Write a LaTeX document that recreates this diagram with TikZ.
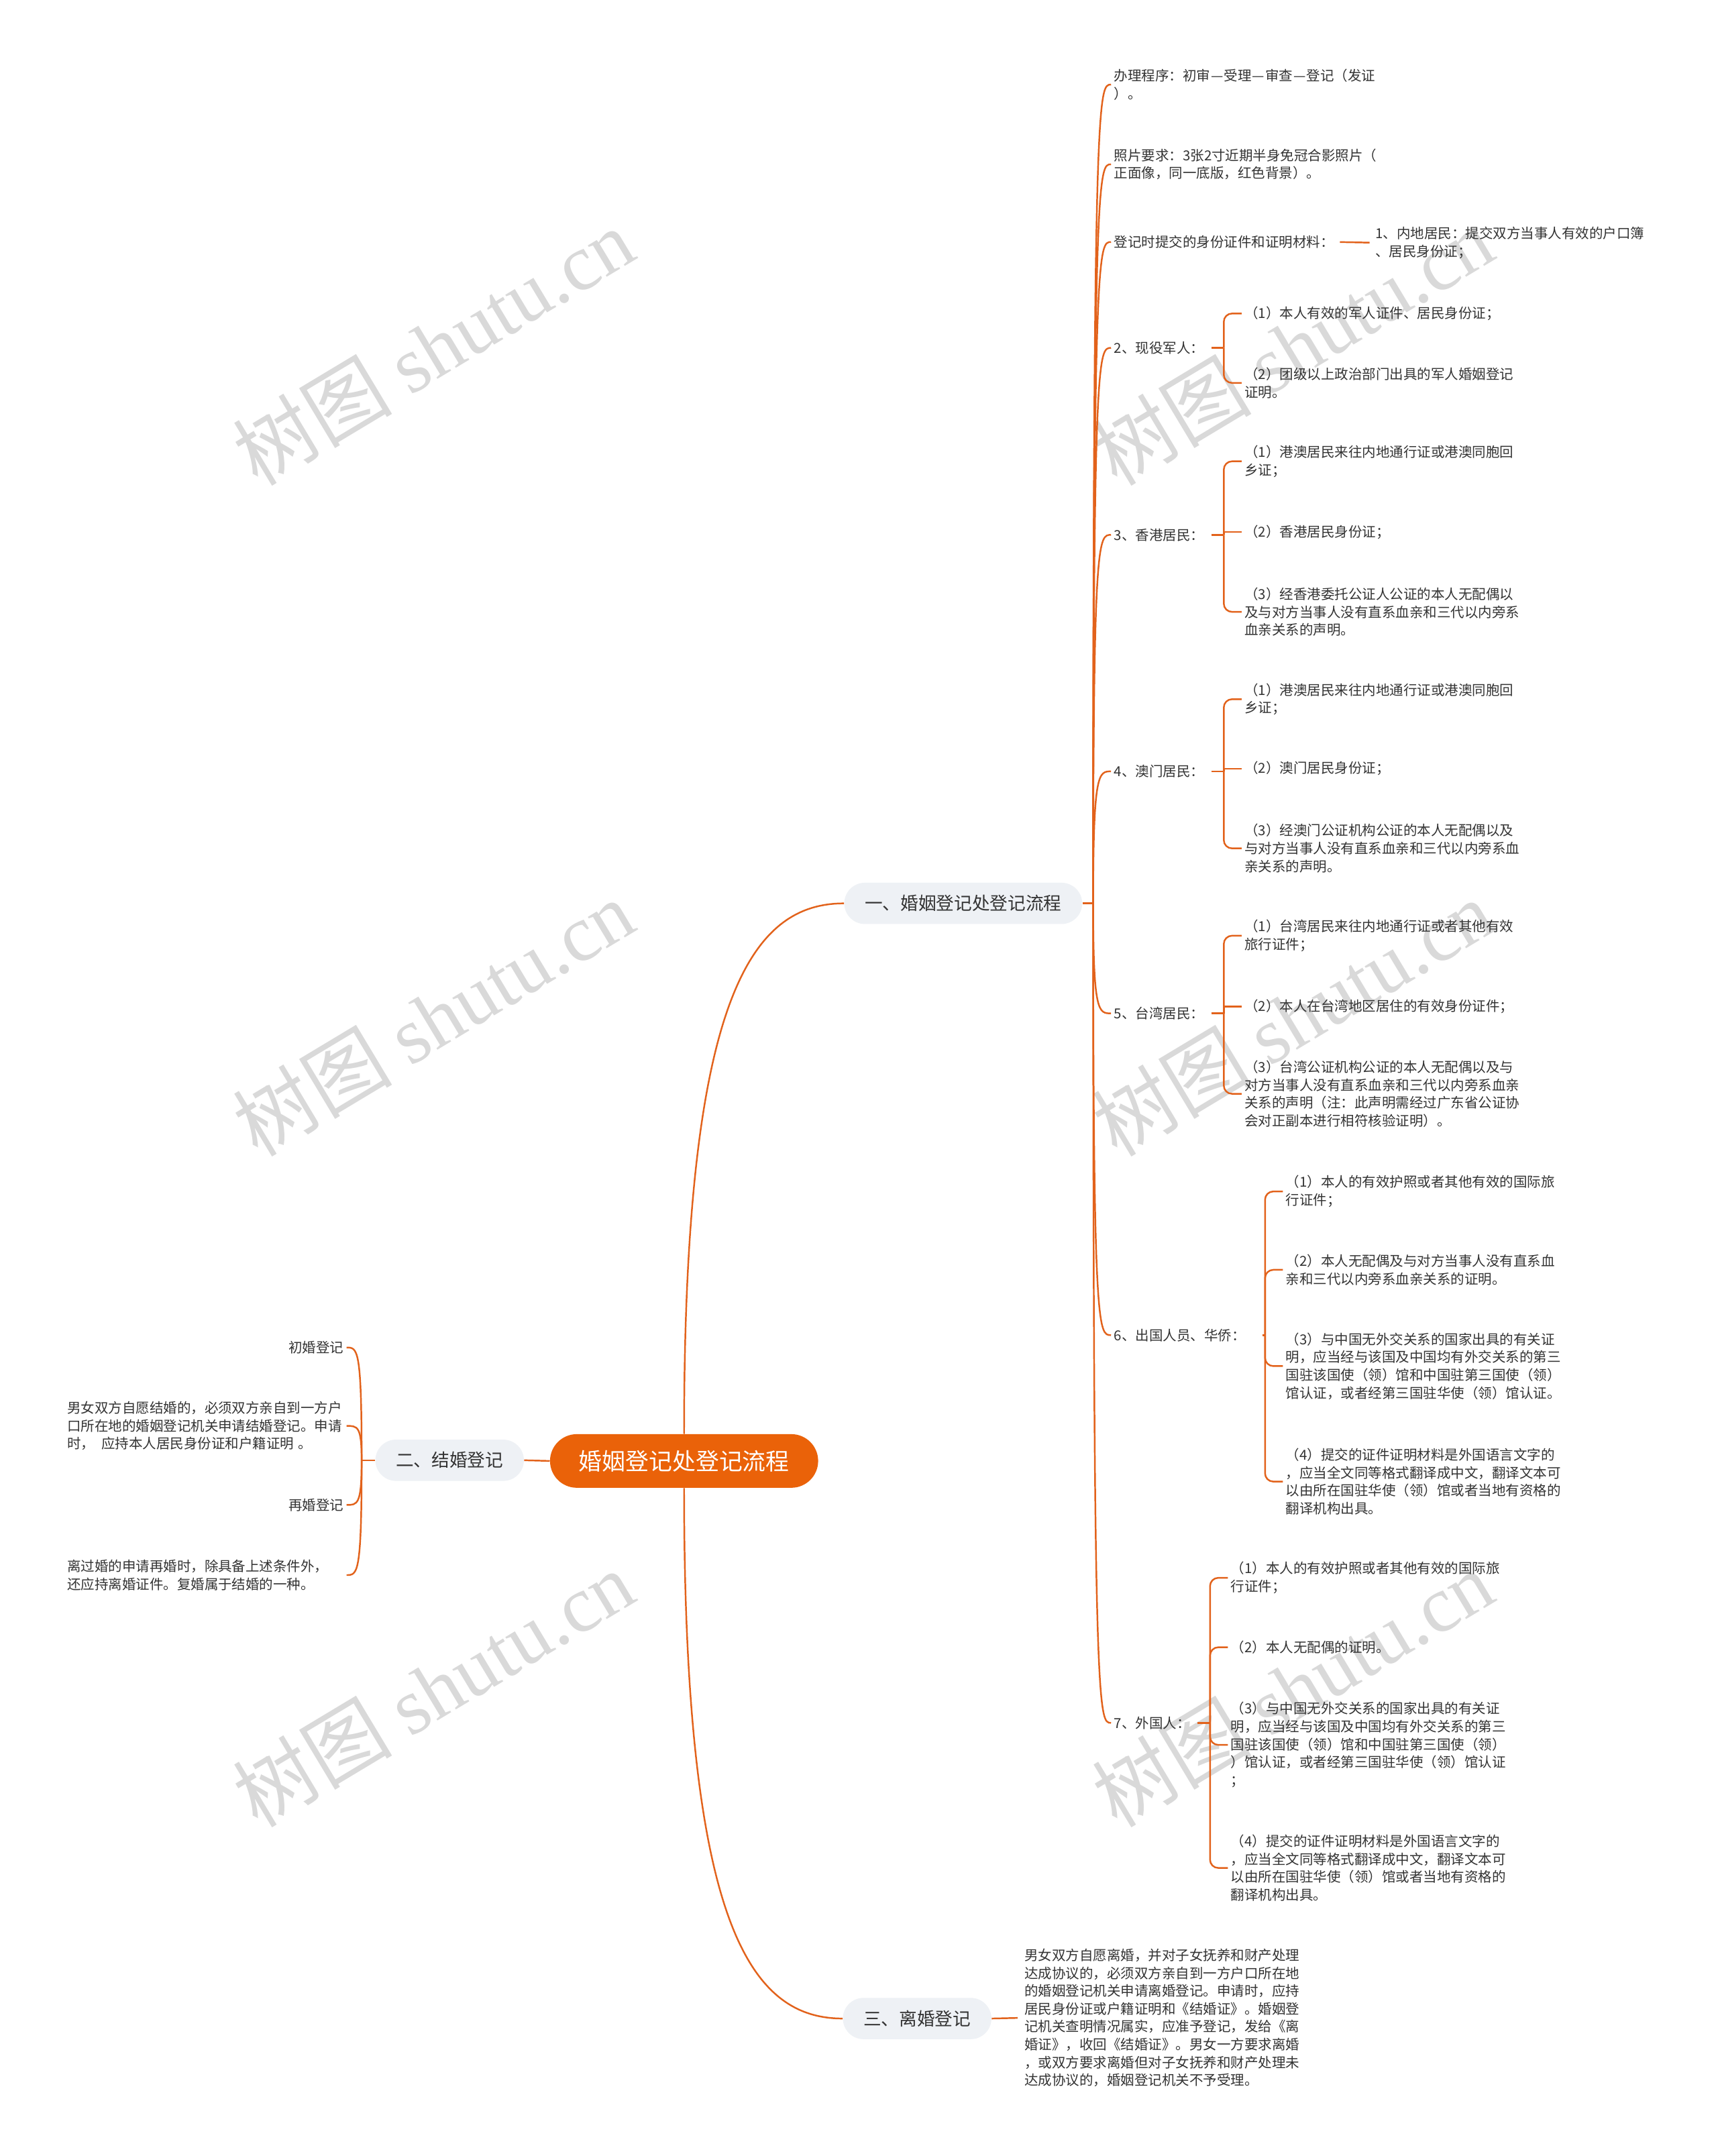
\documentclass[tikz,border=0pt]{standalone}
\usepackage{fontspec}
\setmainfont{Noto Sans CJK SC}
\newfontfamily\wmlatin{Liberation Serif}
\usetikzlibrary{calc}
\definecolor{lineor}{HTML}{E2621B}
\definecolor{rootor}{HTML}{EA6209}
\definecolor{topicbg}{HTML}{EEF1F5}
\definecolor{txt}{HTML}{333333}
\definecolor{wm}{HTML}{D9D9D9}
\newcommand{\cjkdash}{\makebox[1em][c]{—}}
\tikzset{
  conn/.style={draw=lineor, line width=1.2pt},
  brk/.style={conn, rounded corners=6pt},
  rootbox/.style={fill=rootor, rounded corners=19.5pt, minimum width=195pt, minimum height=39pt, text=white, font=\fontsize{17}{20}\selectfont, inner sep=0pt},
  topicbox/.style={fill=topicbg, rounded corners=15pt, minimum height=30pt, inner xsep=15pt, inner ysep=0pt, text=txt, font=\fontsize{13}{16}\selectfont},
  leaf/.style={text=txt, font=\fontsize{10}{13}\selectfont, align=left, inner xsep=2pt, inner ysep=1pt, anchor=west},
  leafr/.style={leaf, anchor=east},
  wmark/.style={text=wm, rotate=31, font=\fontsize{58}{60}\selectfont, inner sep=0pt},
}
\begin{document}
\begin{tikzpicture}[x=1pt,y=-1pt]
\fill[white] (0,0) rectangle (1249,1568);
\useasboundingbox (0,0) rectangle (1249,1568);

% watermarks
\node[wmark] (w1) at (315,252) {树图 {\wmlatin shutu.cn}};
\node[wmark] (w2) at (315,740) {树图 {\wmlatin shutu.cn}};
\node[wmark] (w3) at (315,1228) {树图 {\wmlatin shutu.cn}};
\node[wmark] (w4) at (940,252) {树图 {\wmlatin shutu.cn}};
\node[wmark] (w5) at (940,740) {树图 {\wmlatin shutu.cn}};
\node[wmark] (w6) at (940,1228) {树图 {\wmlatin shutu.cn}};

% root and main topics
\node[rootbox] (root) at (497.5,1062.5) {婚姻登记处登记流程};
\node[topicbox] (t1) at (700.5,657) {一、婚姻登记处登记流程};
\node[topicbox] (t2) at (327,1062) {二、结婚登记};
\node[topicbox] (t3) at (667,1468) {三、离婚登记};

% branch one
\node[leaf] (a1) at (808,61.5) {办理程序：初审\cjkdash 受理\cjkdash 审查\cjkdash 登记（发证\\）。};
\node[leaf] (a2) at (808,119.5) {照片要求：3张2寸近期半身免冠合影照片（\\正面像，同一底版，红色背景）。};
\node[leaf] (a3) at (808,176) {登记时提交的身份证件和证明材料：};
\node[leaf] (a3a) at (998,176.5) {1、内地居民：提交双方当事人有效的户口簿\\、居民身份证；};
\node[leaf] (a4) at (808,253) {2、现役军人：};
\node[leaf] (a4a) at (903,228) {（1）本人有效的军人证件、居民身份证；};
\node[leaf] (a4b) at (903,278.5) {（2）团级以上政治部门出具的军人婚姻登记\\证明。};
\node[leaf] (a5) at (808,389) {3、香港居民：};
\node[leaf] (a5a) at (903,335.5) {（1）港澳居民来往内地通行证或港澳同胞回\\乡证；};
\node[leaf] (a5b) at (903,387) {（2）香港居民身份证；};
\node[leaf] (a5c) at (903,445) {（3）经香港委托公证人公证的本人无配偶以\\及与对方当事人没有直系血亲和三代以内旁系\\血亲关系的声明。};
\node[leaf] (a6) at (808,561) {4、澳门居民：};
\node[leaf] (a6a) at (903,508.5) {（1）港澳居民来往内地通行证或港澳同胞回\\乡证；};
\node[leaf] (a6b) at (903,559) {（2）澳门居民身份证；};
\node[leaf] (a6c) at (903,617) {（3）经澳门公证机构公证的本人无配偶以及\\与对方当事人没有直系血亲和三代以内旁系血\\亲关系的声明。};
\node[leaf] (a7) at (808,737) {5、台湾居民：};
\node[leaf] (a7a) at (903,680.5) {（1）台湾居民来往内地通行证或者其他有效\\旅行证件；};
\node[leaf] (a7b) at (903,732) {（2）本人在台湾地区居住的有效身份证件；};
\node[leaf] (a7c) at (903,795.5) {（3）台湾公证机构公证的本人无配偶以及与\\对方当事人没有直系血亲和三代以内旁系血亲\\关系的声明（注：此声明需经过广东省公证协\\会对正副本进行相符核验证明）。};
\node[leaf] (a8) at (808,971) {6、出国人员、华侨：};
\node[leaf] (a8a) at (933,866.5) {（1）本人的有效护照或者其他有效的国际旅\\行证件；};
\node[leaf] (a8b) at (933,923.5) {（2）本人无配偶及与对方当事人没有直系血\\亲和三代以内旁系血亲关系的证明。};
\node[leaf] (a8c) at (933,993.5) {（3）与中国无外交关系的国家出具的有关证\\明，应当经与该国及中国均有外交关系的第三\\国驻该国使（领）馆和中国驻第三国使（领）\\馆认证，或者经第三国驻华使（领）馆认证。};
\node[leaf] (a8d) at (933,1077.5) {（4）提交的证件证明材料是外国语言文字的\\，应当全文同等格式翻译成中文，翻译文本可\\以由所在国驻华使（领）馆或者当地有资格的\\翻译机构出具。};
\node[leaf] (a9) at (808,1253) {7、外国人：};
\node[leaf] (a9a) at (893,1147.5) {（1）本人的有效护照或者其他有效的国际旅\\行证件；};
\node[leaf] (a9b) at (893,1198) {（2）本人无配偶的证明。};
\node[leaf] (a9c) at (893,1269) {（3）与中国无外交关系的国家出具的有关证\\明，应当经与该国及中国均有外交关系的第三\\国驻该国使（领）馆和中国驻第三国使（领）\\）馆认证，或者经第三国驻华使（领）馆认证\\；};
\node[leaf] (a9d) at (893,1358.5) {（4）提交的证件证明材料是外国语言文字的\\，应当全文同等格式翻译成中文，翻译文本可\\以由所在国驻华使（领）馆或者当地有资格的\\翻译机构出具。};

% branch two
\node[leafr, align=right] (b1) at (252,980) {初婚登记};
\node[leafr, text width=201pt] (b2) at (252,1037) {男女双方自愿结婚的，必须双方亲自到一方户\\口所在地的婚姻登记机关申请结婚登记。申请\\时，\hspace{.5em}应持本人居民身份证和户籍证明\hspace{.3em}。};
\node[leafr, align=right] (b3) at (252,1094.5) {再婚登记};
\node[leafr, text width=201pt] (b4) at (252,1145.5) {离过婚的申请再婚时，除具备上述条件外，\\还应持离婚证件。复婚属于结婚的一种。};

% branch three
\node[leaf] (c1) at (743,1467.5) {男女双方自愿离婚，并对子女抚养和财产处理\\达成协议的，必须双方亲自到一方户口所在地\\的婚姻登记机关申请离婚登记。申请时，应持\\居民身份证或户籍证明和《结婚证》。婚姻登\\记机关查明情况属实，应准予登记，发给《离\\婚证》，收回《结婚证》。男女一方要求离婚\\，或双方要求离婚但对子女抚养和财产处理未\\达成协议的，婚姻登记机关不予受理。};

% junctions
\coordinate (ja) at (795,657);
\coordinate (jb) at (263,1062);
\coordinate (j4) at (890,253);
\coordinate (j5) at (890,389);
\coordinate (j6) at (890,561);
\coordinate (j7) at (890,737);
\coordinate (j8) at (920,971);
\coordinate (j9) at (880,1253);

% connectors: root
\draw[conn] (root.west) -- (t2.east);
\draw[conn] (root.north) .. controls ($(root.north)+(0,-313)$) and ($(t1.west)+(-69,0)$) .. (t1.west);
\draw[conn] (root.south) .. controls ($(root.south)+(0,313)$) and ($(t3.west)+(-69,0)$) .. (t3.west);

% branch one connectors
\draw[conn] (t1.east) -- (ja);
\foreach \n in {a1,a2,a3,a4,a5,a6,a7,a8,a9}
  \draw[conn] (ja) .. controls (ja |- \n.west) and ($(\n.west)+(-9,0)$) .. (\n.west);
\draw[conn, shorten <=2pt, shorten >=2pt] (a3.east) -- (a3a.west);
\draw[conn, shorten <=3pt] (a4.east) -- (j4);
\draw[conn, shorten <=3pt] (a5.east) -- (j5);
\draw[conn, shorten <=3pt] (a6.east) -- (j6);
\draw[conn, shorten <=3pt] (a7.east) -- (j7);
\draw[conn, shorten <=10pt] (a8.east) -- (j8);
\draw[conn, shorten <=3pt] (a9.east) -- (j9);
\foreach \n in {a4a,a4b} \draw[brk] (j4) |- (\n.west);
\foreach \n in {a5a,a5c} \draw[brk] (j5) |- (\n.west);
\draw[conn] (j5) |- (a5b.west);
\foreach \n in {a6a,a6c} \draw[brk] (j6) |- (\n.west);
\draw[conn] (j6) |- (a6b.west);
\foreach \n in {a7a,a7c} \draw[brk] (j7) |- (\n.west);
\draw[conn] (j7) |- (a7b.west);
\foreach \n in {a8a,a8b,a8c,a8d} \draw[brk] (j8) |- (\n.west);
\foreach \n in {a9a,a9b,a9c,a9d} \draw[brk] (j9) |- (\n.west);

% branch two connectors
\draw[conn] (t2.west) -- (jb);
\foreach \n in {b1,b2,b3,b4}
  \draw[conn] (jb) .. controls (jb |- \n.east) and ($(\n.east)+(8,0)$) .. (\n.east);

% branch three connector
\draw[conn, shorten >=3pt] (t3.east) -- (c1.west);
\end{tikzpicture}
\end{document}
